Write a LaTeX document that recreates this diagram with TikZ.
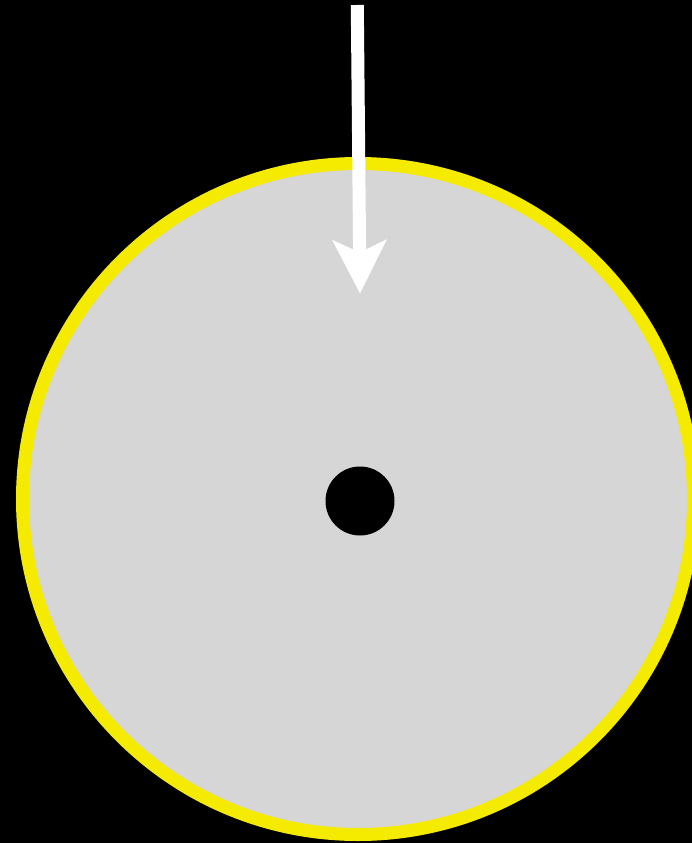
\documentclass[tikz,border=0pt]{standalone}
\usepackage{xcolor}
\definecolor{discgrey}{RGB}{214,214,214}
\definecolor{rimyellow}{RGB}{245,235,0}
\usetikzlibrary{arrows.meta,positioning}
\tikzset{
  disc/.style={circle,draw=rimyellow,line width=13pt,fill=discgrey,inner sep=0pt,minimum size=671pt},
  hub/.style={circle,fill=black,inner sep=0pt,minimum size=69pt},
  arr/.style={-{Stealth[length=53pt,width=53pt,inset=12pt]},line width=13pt,draw=white},
}

\begin{document}
\begin{tikzpicture}[x=1pt,y=-1pt]
    \fill[black] (0,0) rectangle (692,843);
    \useasboundingbox (0,0) rectangle (692,843);
    \node[disc] (d) at (358,499) {};
    \node[hub] (h) at (360,501) {};
    \coordinate (top) at (357.3,5);
    \coordinate (tip) at (360,293.5);
    \draw[arr] (top)--(tip);
  \end{tikzpicture}
\end{document}
